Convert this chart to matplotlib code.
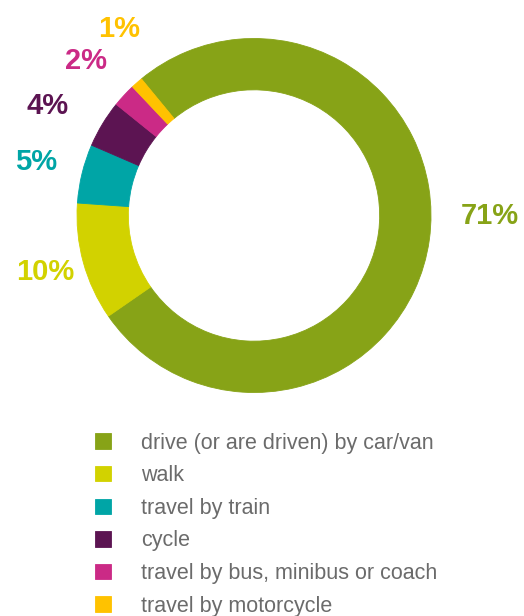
# donut chart of how people travel to work

import matplotlib as mpl
mpl.use('Agg')
import matplotlib.pyplot as plt

modes = ['drive (or are driven) by car/van', 'walk', 'travel by train', 'cycle',
         'travel by bus, minibus or coach', 'travel by motorcycle']
shares = [71, 10, 5, 4, 2, 1]
share_labels = ['71%', '10%', '5%', '4%', '2%', '1%']
colours = ['#87a317', '#d2d200', '#00a5a6', '#5c1452', '#cb2a86', '#ffc200']

# label positions in pixel coords (from top-left)
label_pos = [(490, 216), (45, 272), (36, 162), (47.5, 106), (85.5, 61), (119, 29)]

W, H = 524, 616
fig = plt.figure(figsize=(W / 100, H / 100), dpi=100)
ax = fig.add_axes([0, 0, 1, 1])

wedges, _ = ax.pie(shares, colors=colours, startangle=129.5, counterclock=False,
                   center=(254, H - 215.5), radius=177,
                   wedgeprops=dict(width=177 * 0.29, linewidth=0.6, antialiased=True))
for w, c in zip(wedges, colours):
  w.set_edgecolor(c)

# pie resets the limits, so set them afterwards
ax.set_xlim(0, W)
ax.set_ylim(0, H)
ax.set_aspect('equal')
ax.axis('off')

for (x, y), txt, c in zip(label_pos, share_labels, colours):
  ax.text(x, H - y, txt, color=c, fontsize=21, fontweight='bold',
          family='Liberation Sans', ha='center', va='center')

leg = ax.legend(wedges, modes, loc='upper left', bbox_to_anchor=(95 / W, 1 - 432.5 / H),
                bbox_transform=fig.transFigure, frameon=False, borderpad=0,
                borderaxespad=0, handlelength=0.72, handleheight=0.72,
                handletextpad=1.42, labelspacing=0.54,
                prop={'family': 'Liberation Sans', 'size': 15.5})
for t in leg.get_texts():
  t.set_color('#6b6b6b')

plt.savefig('out.png', dpi=100)
plt.close()
